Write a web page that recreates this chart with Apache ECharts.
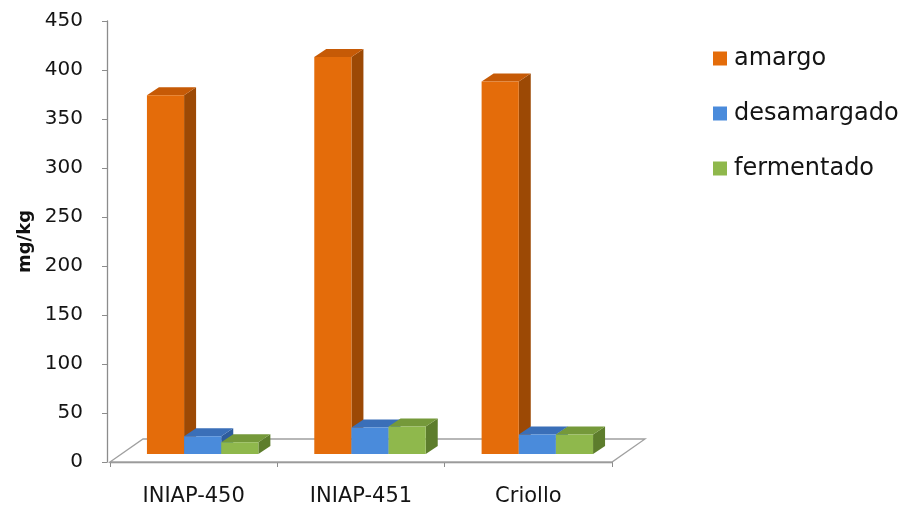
<!DOCTYPE html>
<html>
<head>
<meta charset="utf-8">
<script src="https://cdn.jsdelivr.net/npm/echarts@6/dist/echarts.min.js"></script>
<style>
  html, body { margin: 0; padding: 0; background: #ffffff; }
  #chart { width: 911px; height: 508px; }
</style>
</head>
<body>
<div id="chart"></div>
<script>
// Varieties and measured content (mg/kg) per processing stage
const categories = ['INIAP-450', 'INIAP-451', 'Criollo'];
const seriesNames = ['amargo', 'desamargado', 'fermentado'];
const amargo = [366, 405, 380];
const desamargado = [18, 27, 20];
const fermentado = [12, 28, 20];
const yTicks = { min: 0, max: 450, interval: 50 };

// Face colours for each series: front, top, side
const palette = [
  { front: '#E46C0A', top: '#C65A06', side: '#9C4905' },
  { front: '#4A8BDB', top: '#3A6FB8', side: '#2E5C9C' },
  { front: '#8FB84C', top: '#75993A', side: '#5D7D2C' }
];

// Oblique projection used for the pseudo-3D look
const FLOOR_DX = 33, FLOOR_DY = -23;   // full floor depth
const BAR_OX = 9, BAR_OY = -8;         // bars sit part-way into the floor
const BAR_DX = 12, BAR_DY = -8;        // bar depth

const FONT = 'DejaVu Sans';

function barRenderer(seriesIdx) {
  const c = palette[seriesIdx];
  return function (params, api) {
    const cat = api.value(0);
    const v = api.value(1);
    const base = api.coord([cat, 0]);
    const top = api.coord([cat, v]);
    const band = api.size([1, 0])[0];
    const bw = band * 0.222;
    const x0 = base[0] - bw * 3 / 2 + seriesIdx * bw + BAR_OX;
    const x1 = x0 + bw;
    const yb = base[1] + BAR_OY;
    const yt = top[1] + BAR_OY;
    return {
      type: 'group',
      children: [
        {
          type: 'polygon',
          shape: { points: [[x1, yb], [x1 + BAR_DX, yb + BAR_DY], [x1 + BAR_DX, yt + BAR_DY], [x1, yt]] },
          style: { fill: c.side }
        },
        {
          type: 'polygon',
          shape: { points: [[x0, yt], [x0 + BAR_DX, yt + BAR_DY], [x1 + BAR_DX, yt + BAR_DY], [x1, yt]] },
          style: { fill: c.top }
        },
        {
          type: 'rect',
          shape: { x: x0, y: yt, width: bw, height: yb - yt },
          style: { fill: c.front }
        }
      ]
    };
  };
}

// Floor parallelogram under the columns
function floorRenderer(params, api) {
  const cs = params.coordSys;
  const yF = cs.y + cs.height;
  return {
    type: 'polygon',
    shape: {
      points: [
        [cs.x, yF],
        [cs.x + FLOOR_DX, yF + FLOOR_DY],
        [cs.x + cs.width + FLOOR_DX, yF + FLOOR_DY],
        [cs.x + cs.width, yF]
      ]
    },
    style: { fill: '#ffffff', stroke: '#a0a0a0', lineWidth: 1.3 }
  };
}

const valueSets = [amargo, desamargado, fermentado];

const series = [{
  name: 'floor',
  type: 'custom',
  renderItem: floorRenderer,
  data: [[0, 0]],
  encode: { x: 0, y: 1 },
  silent: true,
  z: 1
}];
valueSets.forEach(function (vals, i) {
  series.push({
    name: seriesNames[i],
    type: 'custom',
    renderItem: barRenderer(i),
    data: vals.map(function (v, k) { return [k, v]; }),
    encode: { x: 0, y: 1 },
    itemStyle: { color: palette[i].front },
    z: 2 + i
  });
});

const chart = echarts.init(document.getElementById('chart'), null, { renderer: 'canvas' });
chart.setOption({
  backgroundColor: '#ffffff',
  animation: false,
  textStyle: { fontFamily: FONT },
  grid: { left: 110, top: 21, right: 299, bottom: 46, containLabel: false },
  legend: {
    orient: 'vertical',
    left: 708,
    top: 40,
    data: seriesNames,
    icon: 'rect',
    itemWidth: 14,
    itemHeight: 14,
    itemGap: 28,
    textStyle: { fontFamily: FONT, fontSize: 24, color: '#141414', lineHeight: 27, padding: [0, 0, 0, 2] }
  },
  xAxis: {
    type: 'category',
    data: categories,
    boundaryGap: true,
    axisLine: { show: true, lineStyle: { color: '#8c8c8c', width: 1.3 } },
    axisTick: { show: true, length: 5, lineStyle: { color: '#8c8c8c' } },
    axisLabel: { fontFamily: FONT, fontSize: 21, color: '#141414', margin: 24 },
    splitLine: { show: false }
  },
  yAxis: {
    type: 'value',
    min: yTicks.min,
    max: yTicks.max,
    interval: yTicks.interval,
    offset: 3,
    name: 'mg/kg',
    nameLocation: 'middle',
    nameRotate: 90,
    nameGap: 72,
    nameTextStyle: { fontFamily: FONT, fontSize: 18, fontWeight: 'bold', color: '#111' },
    axisLine: { show: true, lineStyle: { color: '#8c8c8c', width: 1.3 } },
    axisTick: { show: true, length: 5, lineStyle: { color: '#8c8c8c' } },
    axisLabel: { fontFamily: FONT, fontSize: 20, color: '#141414', margin: 24 },
    splitLine: { show: false }
  },
  series: series
});
</script>
</body>
</html>
